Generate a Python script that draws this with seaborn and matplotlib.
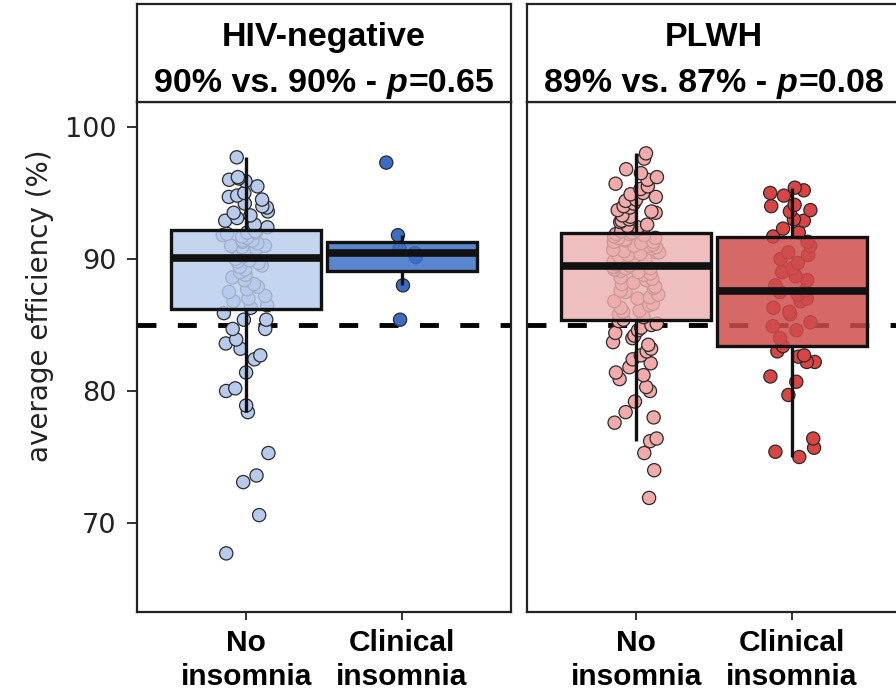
import numpy as np
import pandas as pd
import seaborn as sns
import matplotlib
matplotlib.use("Agg")
import matplotlib.pyplot as plt
from matplotlib import font_manager

# ---------------- data ----------------
groups = ["No\ninsomnia", "Clinical\ninsomnia"]
panel_titles = ["HIV-negative", "PLWH"]
subtitles = [("90% vs. 90% -", "p", "=0.65"), ("89% vs. 87% -", "p", "=0.08")]
threshold = 85
ylabel_text = "average efficiency (%)"
yticks = [70, 80, 90, 100]

hivneg_no = [67.7, 70.6, 73.1, 73.6, 75.3, 78.4, 78.9, 80.0, 80.2, 81.4,
             82.4, 82.7, 83.2, 83.6, 83.9, 84.7, 84.7, 85.4, 85.4, 85.9,
             86.3, 86.5, 86.8, 87.0, 87.2, 87.5, 87.7, 87.9, 88.1, 88.4,
             88.6, 88.8, 89.0, 89.2, 89.4, 89.5, 89.7, 89.8, 89.9, 90.0,
             90.2, 90.3, 90.3, 90.5, 90.6, 90.8, 90.9, 91.0, 91.0, 91.2,
             91.3, 91.4, 91.4, 91.6, 91.7, 91.8, 91.9, 92.0, 92.0, 92.1,
             92.4, 92.6, 92.9, 93.1, 93.3, 93.5, 93.6, 93.9, 94.0, 94.2,
             94.5, 94.7, 94.8, 95.0, 95.5, 95.9, 96.0, 96.1, 96.2, 97.7]
hivneg_clin = [97.3, 91.8, 90.8, 90.45, 90.15, 88.0, 85.4]

plwh_no = [71.9, 74.0, 75.3, 76.2, 76.4, 77.6, 78.0, 78.4, 79.2, 80.0,
           80.3, 80.9, 81.2, 81.4, 81.8, 82.1, 82.4, 82.7, 83.0, 83.2,
           83.5, 83.7, 84.0, 84.2, 84.4, 84.6, 84.8, 85.0, 85.1, 85.3,
           85.4,
           85.6, 85.8, 86.0, 86.1, 86.3, 86.5, 86.6, 86.8, 87.0, 87.1,
           87.3, 87.5, 87.6, 87.8, 87.9, 88.1, 88.2, 88.4, 88.5, 88.6,
           88.8, 88.9, 89.0, 89.1, 89.2, 89.3, 89.3, 89.4, 89.4,
           89.5,
           89.6, 89.7, 89.8, 89.9, 90.0, 90.1, 90.2, 90.3, 90.4, 90.5,
           90.5, 90.6, 90.7, 90.8, 90.9, 91.0, 91.0, 91.1, 91.2, 91.3,
           91.3, 91.4, 91.5, 91.6, 91.6, 91.7, 91.8, 91.9, 91.9,
           92.0,
           92.1, 92.2, 92.4, 92.5, 92.6, 92.8, 92.9, 93.0, 93.2, 93.3,
           93.5, 93.6, 93.7, 93.9, 94.0, 94.2, 94.4, 94.5, 94.7, 94.9,
           95.0, 95.3, 95.5, 95.7, 96.0, 96.2, 96.5, 96.8, 97.6, 98.0]
plwh_clin = [75.0, 75.4, 75.7, 76.4, 79.7, 80.7, 81.1, 82.2, 82.2, 82.6,
             82.7, 83.0, 83.4,
             84.0, 84.6, 84.9, 85.2, 85.8, 86.0, 86.3, 86.8, 87.0, 87.3, 87.5,
             87.6,
             88.0, 88.4, 88.7, 89.0, 89.3, 89.7, 90.0, 90.3, 90.5, 91.0, 91.3,
             91.7,
             92.0, 92.3, 92.9, 93.0, 93.6, 93.7, 94.0, 94.1, 94.8, 95.0,
             95.2, 95.4]

# ---------------- styling ----------------
box_fill = [[(0.72, 0.80, 0.93, 0.82), (0.24, 0.44, 0.78, 0.85)],
            [(0.925, 0.69, 0.69, 0.82), (0.82, 0.30, 0.30, 0.85)]]
pt_colors = [["#b8cbec", "#3b6dc5"], ["#f2aaaa", "#d94545"]]

sns.set_theme(style="white")
names = {f.name for f in font_manager.fontManager.ttflist}
bold_family = "Liberation Sans" if "Liberation Sans" in names else "DejaVu Sans"
plt.rcParams["font.family"] = ["DejaVu Sans"]

W, H = 896, 694
fig = plt.figure(figsize=(W / 100, H / 100), dpi=100)


def rect(x0, y0, x1, y1):
    return [x0 / W, 1 - y1 / H, (x1 - x0) / W, (y1 - y0) / H]


panel_px = [(137, 511), (527, 901)]
datasets = [(hivneg_no, hivneg_clin), (plwh_no, plwh_clin)]
np.random.seed(7)

subtitle_texts = []
for i, ((x0, x1), (a, b)) in enumerate(zip(panel_px, datasets)):
    ax = fig.add_axes(rect(x0, 102, x1, 612))
    df = pd.DataFrame({"group": [groups[0]] * len(a) + [groups[1]] * len(b),
                       "eff": list(a) + list(b)})
    hl = ax.axhline(threshold, color="black", lw=3.5, ls=(0, (3.9, 4.4)))
    sns.stripplot(data=df, x="group", y="eff", hue="group", order=groups,
                  hue_order=groups, palette=pt_colors[i], jitter=0.15, size=9.5,
                  linewidth=0.9, edgecolor="#2a2a2a", ax=ax, legend=False)
    sns.boxplot(data=df, x="group", y="eff", hue="group", order=groups,
                hue_order=groups, palette=[c[:3] for c in box_fill[i]],
                width=0.96, showfliers=False, showcaps=False,
                linecolor="#111111", linewidth=2.4,
                medianprops=dict(linewidth=5.5, color="#111111"),
                ax=ax, legend=False)
    # layering: dashed line < points < whiskers < boxes < medians
    hl.set_zorder(1)
    for c in ax.collections:
        c.set_zorder(1.5)
    for j, p in enumerate(ax.patches):
        p.set_alpha(None)
        p.set_facecolor(box_fill[i][j % 2])
        p.set_edgecolor("#111111")
        p.set_zorder(3)
    for ln in ax.lines:
        if ln is hl:
            continue
        yd = np.asarray(ln.get_ydata(), dtype=float)
        if len(yd) == 2 and yd[0] == yd[1]:
            ln.set_zorder(4)
        else:
            ln.set_zorder(2)

    ax.set_xlim(-0.7, 1.7)
    ax.set_ylim(63.26, 101.89)
    ax.set_xlabel("")
    ax.set_xticks([0, 1])
    ax.set_xticklabels(groups, fontsize=21.5, fontweight="bold",
                       family=bold_family, linespacing=1.3)
    ax.set_yticks(yticks)
    for s in ax.spines.values():
        s.set_visible(True)
        s.set_color("#222222")
        s.set_linewidth(1.6)
    ax.tick_params(axis="x", bottom=True, length=6, width=1.4, color="#333333",
                   pad=6, colors="black")
    if i == 0:
        ax.tick_params(axis="y", left=True, length=7, width=1.4, color="#333333",
                       pad=8, labelsize=19.5, labelcolor="#222222")
        ax.set_ylabel(ylabel_text, fontsize=20, color="#222222")
        ax.yaxis.set_label_coords(-0.222, 0.600)
    else:
        ax.tick_params(axis="y", left=False, labelleft=False)
        ax.set_ylabel("")
    ax.set_facecolor("white")

    # strip
    sax = fig.add_axes(rect(x0, 4, x1, 102))
    sax.set_xticks([])
    sax.set_yticks([])
    for s in sax.spines.values():
        s.set_visible(True)
        s.set_color("#222222")
        s.set_linewidth(1.6)
    cx = (x0 + x1) / 2
    fig.text(cx / W, 1 - 46 / H, panel_titles[i], ha="center", va="baseline",
             fontsize=24.5, fontweight="bold", family=bold_family, color="black")
    parts = []
    for s, st in zip(subtitles[i], ["normal", "italic", "normal"]):
        parts.append(fig.text(0, 1 - 92 / H, s, ha="left", va="baseline",
                              fontsize=24.5, fontweight="bold", style=st,
                              family=bold_family, color="black"))
    subtitle_texts.append((cx, parts))

fig.canvas.draw()
r = fig.canvas.get_renderer()
space_px = 0.278 * 24.5 * 100 / 72
for cx, parts in subtitle_texts:
    widths = [t.get_window_extent(r).width for t in parts]
    gaps = [space_px, 1.0, 0.0]
    total = sum(widths) + sum(gaps)
    x = cx - total / 2
    for t, w, g in zip(parts, widths, gaps):
        t.set_x(x / W)
        x += w + g

fig.savefig("out.png", dpi=100, facecolor="white")
